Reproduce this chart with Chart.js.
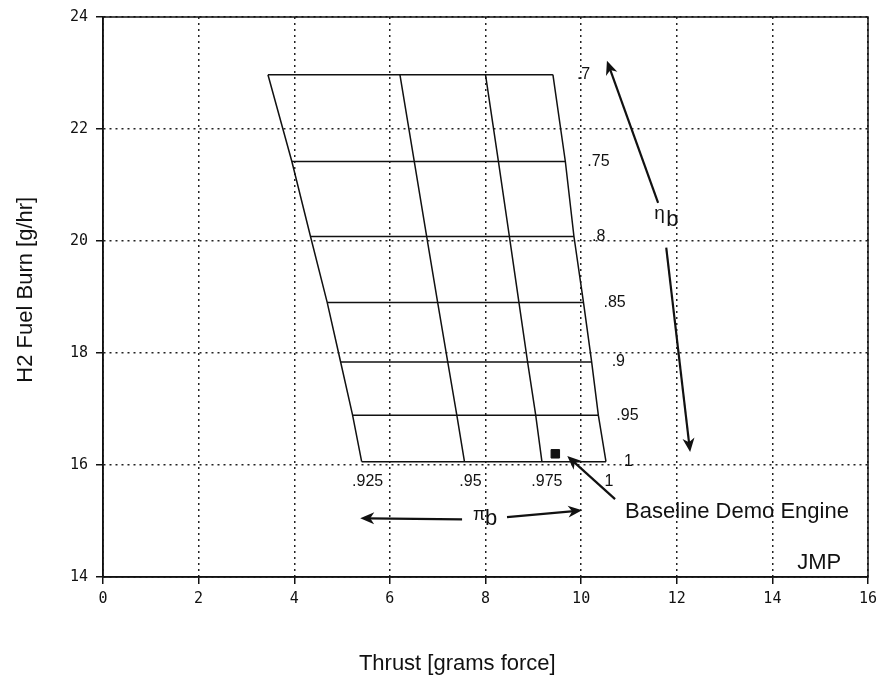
<!DOCTYPE html>
<html>
<head>
<meta charset="utf-8">
<script src="https://cdn.jsdelivr.net/npm/chart.js@4/dist/chart.umd.min.js"></script>
<style>
  html, body { margin: 0; padding: 0; background: #fff; }
  #wrap { width: 885px; height: 679px; }
</style>
</head>
<body>
<div id="wrap"><canvas id="grafica" width="885" height="679"></canvas></div>
<script>
// niveles de eficiencia de combustion (eta_b) y consumo de H2 de cada nivel
const etaLevels = ['.7', '.75', '.8', '.85', '.9', '.95', '1'];
const fuelBurn = [22.97, 21.42, 20.08, 18.90, 17.84, 16.89, 16.06];

// relacion de presiones (pi_b) y empuje en cada nivel de eta
const piLevels = ['.925', '.95', '.975', '1'];
const thrustPi925 = [3.45, 3.95, 4.34, 4.69, 4.97, 5.22, 5.41];
const thrustPi950 = [6.21, 6.51, 6.77, 7.00, 7.21, 7.40, 7.56];
const thrustPi975 = [8.00, 8.27, 8.50, 8.70, 8.88, 9.05, 9.18];
const thrustPi100 = [9.41, 9.67, 9.85, 10.05, 10.22, 10.36, 10.52];
const thrustByPi = [thrustPi925, thrustPi950, thrustPi975, thrustPi100];

// motor de referencia
const baseline = { thrust: 9.46, fuel: 16.20 };

const xTicks = [0, 2, 4, 6, 8, 10, 12, 14, 16];
const yTicks = [14, 16, 18, 20, 22, 24];

const datasets = [];
// lineas de eta constante (horizontales)
etaLevels.forEach((eta, i) => {
  datasets.push({
    label: 'eta ' + eta,
    data: thrustByPi.map(t => ({ x: t[i], y: fuelBurn[i] })),
    showLine: true, borderColor: '#111', borderWidth: 1.5, pointRadius: 0
  });
});
// lineas de pi constante
piLevels.forEach((pi, j) => {
  datasets.push({
    label: 'pi ' + pi,
    data: fuelBurn.map((f, i) => ({ x: thrustByPi[j][i], y: f })),
    showLine: true, borderColor: '#111', borderWidth: 1.5, pointRadius: 0
  });
});
datasets.push({
  label: 'Baseline Demo Engine',
  data: [{ x: baseline.thrust, y: baseline.fuel }],
  pointStyle: 'rect', pointRadius: 6, backgroundColor: '#111', borderColor: '#111'
});

const FONT_LBL = '"Liberation Sans", Arial, sans-serif';

function flecha(ctx, x1, y1, x2, y2) {
  const ang = Math.atan2(y2 - y1, x2 - x1);
  const L = 14, W = 6;
  ctx.beginPath();
  ctx.moveTo(x1, y1);
  ctx.lineTo(x2 - Math.cos(ang) * 8, y2 - Math.sin(ang) * 8);
  ctx.stroke();
  ctx.beginPath();
  ctx.moveTo(x2, y2);
  ctx.lineTo(x2 - Math.cos(ang) * L + Math.sin(ang) * W, y2 - Math.sin(ang) * L - Math.cos(ang) * W);
  ctx.lineTo(x2 - Math.cos(ang) * 10, y2 - Math.sin(ang) * 10);
  ctx.lineTo(x2 - Math.cos(ang) * L - Math.sin(ang) * W, y2 - Math.sin(ang) * L + Math.cos(ang) * W);
  ctx.closePath();
  ctx.fill();
}

// textos, flechas y marco del area
const anotaciones = {
  id: 'anotaciones',
  afterDraw(chart) {
    const ctx = chart.ctx;
    const xs = chart.scales.x, ys = chart.scales.y;
    const X = v => xs.getPixelForValue(v), Y = v => ys.getPixelForValue(v);
    const a = chart.chartArea;
    ctx.save();
    ctx.strokeStyle = '#111';
    ctx.lineWidth = 1.5;
    ctx.setLineDash([]);
    ctx.strokeRect(a.left, a.top, a.right - a.left, a.bottom - a.top);

    ctx.fillStyle = '#111';
    ctx.font = '16px ' + FONT_LBL;
    ctx.textBaseline = 'middle';
    ctx.textAlign = 'left';
    const etaOff = [24, 22, 18, 20, 20, 18, 18];
    etaLevels.forEach((eta, i) => {
      ctx.fillText(eta, X(thrustPi100[i]) + etaOff[i], Y(fuelBurn[i]));
    });
    ctx.textAlign = 'center';
    const piOff = [6, 6, 5, 3];
    piLevels.forEach((pi, j) => {
      ctx.fillText(pi, X(thrustByPi[j][6]) + piOff[j], Y(fuelBurn[6]) + 20);
    });

    // eta_b
    ctx.lineWidth = 2.2;
    flecha(ctx, X(11.61), Y(20.68), X(10.54), Y(23.22));
    flecha(ctx, X(11.78), Y(19.88), X(12.28), Y(16.23));
    ctx.font = '19px ' + FONT_LBL;
    ctx.fillText('\u03b7', X(11.64), Y(20.48));
    ctx.font = '22px ' + FONT_LBL;
    ctx.fillText('b', X(11.91), Y(20.37));

    // pi_b
    flecha(ctx, X(7.51), Y(15.03), X(5.38), Y(15.05));
    flecha(ctx, X(8.45), Y(15.07), X(10.02), Y(15.19));
    ctx.font = '18px ' + FONT_LBL;
    ctx.fillText('\u03c0', X(7.87), Y(15.10));
    ctx.font = '22px ' + FONT_LBL;
    ctx.fillText('b', X(8.12), Y(15.03));

    // motor de referencia
    flecha(ctx, X(10.71), Y(15.39), X(9.71), Y(16.16));
    ctx.textAlign = 'left';
    ctx.font = '22px ' + FONT_LBL;
    ctx.fillText('Baseline Demo Engine', X(10.92), Y(15.16));
    ctx.fillText('JMP', X(14.52), Y(14.25));

    // titulos de ejes
    ctx.textAlign = 'center';
    ctx.font = '22px ' + FONT_LBL;
    ctx.fillText('Thrust [grams force]', X(7.41), 664);
    ctx.translate(26, Y(19.13));
    ctx.rotate(-Math.PI / 2);
    ctx.fillText('H2 Fuel Burn [g/hr]', 0, 0);
    ctx.restore();
  }
};

const gridOpts = {
  color: '#222', lineWidth: 1.5,
  drawTicks: true, tickLength: 7, tickColor: '#111', tickWidth: 1.5, tickBorderDash: [1, 0]
};
const borderOpts = { display: true, color: '#111', width: 1.5, dash: [2, 4] };

const ctx = document.getElementById('grafica').getContext('2d');
const miGrafica = new Chart(ctx, {
  type: 'scatter',
  data: { datasets: datasets },
  options: {
    responsive: false,
    animation: false,
    layout: { padding: { left: 0, right: 17, top: 16, bottom: 0 } },
    plugins: { legend: { display: false }, tooltip: { enabled: false } },
    scales: {
      x: {
        type: 'linear', min: 0, max: 16,
        afterFit: s => { s.height = 102; },
        afterBuildTicks: s => { s.ticks = xTicks.map(v => ({ value: v })); },
        grid: gridOpts,
        border: borderOpts,
        ticks: { color: '#111', padding: 6, font: { family: '"DejaVu Sans Mono", monospace', size: 15 } }
      },
      y: {
        type: 'linear', min: 14, max: 24,
        afterFit: s => { s.width = 103; },
        afterBuildTicks: s => { s.ticks = yTicks.map(v => ({ value: v })); },
        grid: gridOpts,
        border: borderOpts,
        ticks: { color: '#111', padding: 8, font: { family: '"DejaVu Sans Mono", monospace', size: 15 } }
      }
    }
  },
  plugins: [anotaciones]
});
</script>
</body>
</html>
